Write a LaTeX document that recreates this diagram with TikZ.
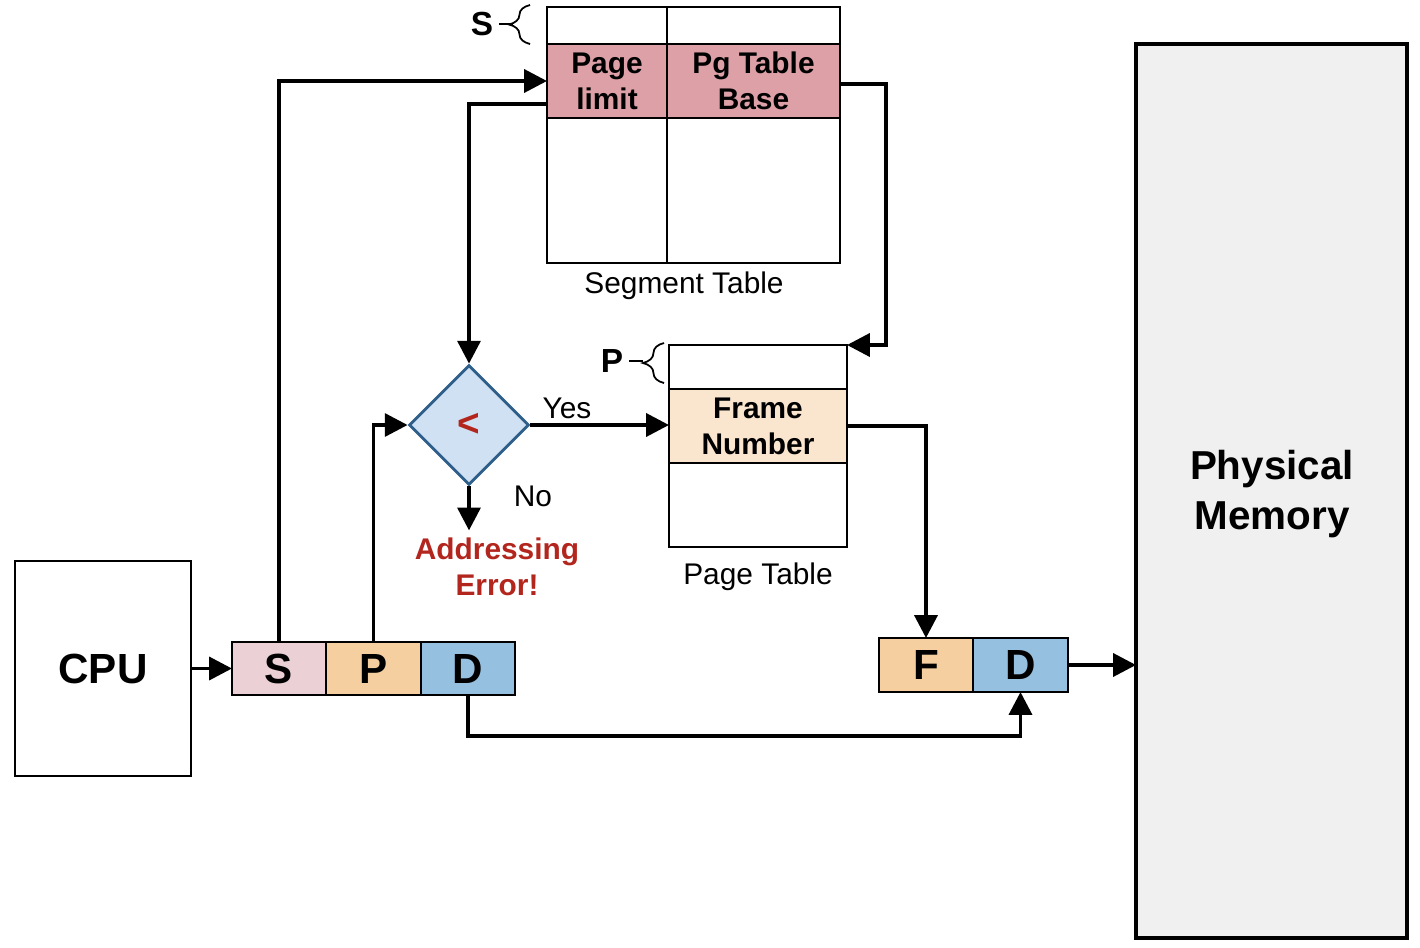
\documentclass[tikz,border=0pt]{standalone}
\usepackage{fontspec}
\setmainfont{Liberation Sans}
\usetikzlibrary{shapes.geometric,arrows.meta,decorations.pathreplacing}

\definecolor{segHi}{HTML}{DDA0A7}
\definecolor{frameHi}{HTML}{FAE5CE}
\definecolor{segCol}{HTML}{EBD0D6}
\definecolor{pageCol}{HTML}{F5CFA0}
\definecolor{offCol}{HTML}{95C0E0}
\definecolor{cmpFill}{HTML}{CFE1F2}
\definecolor{cmpLine}{HTML}{2E5F8A}
\definecolor{errRed}{HTML}{B3261E}
\definecolor{memFill}{HTML}{F0F0F0}

\tikzset{
  cell/.style={draw, line width=1.6pt, inner sep=0pt, outer sep=0pt,
               anchor=north west, align=center},
  hdr/.style={font=\fontsize{17}{20.5}\selectfont\bfseries},
  big/.style={font=\fontsize{24}{28}\selectfont\bfseries},
  plain/.style={font=\fontsize{17}{20.5}\selectfont},
  conn/.style={line width=2.2pt, -{Triangle[length=13pt,width=13pt]}},
  brc/.style={line width=1pt, decorate,
              decoration={brace, amplitude=12pt, aspect=0.5}},
}

\begin{document}
\begin{tikzpicture}[x=0.02cm, y=-0.02cm]
\useasboundingbox (0,0) rectangle (1420,947);

% segment table
\node[cell, minimum width=2.4cm, minimum height=0.74cm] (segT1) at (547,7) {};
\node[cell, minimum width=3.46cm, minimum height=0.74cm] (segT2) at (667,7) {};
\node[cell, fill=segHi, hdr, minimum width=2.4cm, minimum height=1.48cm] (segPL) at (547,44) {Page\\limit};
\node[cell, fill=segHi, hdr, minimum width=3.46cm, minimum height=1.48cm] (segPB) at (667,44) {Pg Table\\Base};
\node[cell, minimum width=2.4cm, minimum height=2.9cm] (segB1) at (547,118) {};
\node[cell, minimum width=3.46cm, minimum height=2.9cm] (segB2) at (667,118) {};
\node[plain] (segLbl) at (684,286) {Segment Table};

% S selector brace
\node[font=\fontsize{19}{22}\selectfont\bfseries] (sLbl) at (482,24) {S};
\draw[brc] (530,44) -- (530,5);
\draw[line width=1pt] (sLbl.east) -- ++(14,0);

% page table
\node[cell, minimum width=3.56cm, minimum height=0.88cm] (ptTop) at (669,345) {};
\node[cell, fill=frameHi, hdr, minimum width=3.56cm, minimum height=1.48cm] (ptFN) at (669,389) {Frame\\Number};
\node[cell, minimum width=3.56cm, minimum height=1.68cm] (ptBot) at (669,463) {};
\node[plain] (ptLbl) at (758,577) {Page Table};

% P selector brace
\node[font=\fontsize{19}{22}\selectfont\bfseries] (pLbl) at (612,361) {P};
\draw[brc] (664,383) -- (664,343);
\draw[line width=1pt] (pLbl.east) -- ++(14,0);

% comparator
\node[diamond, draw=cmpLine, fill=cmpFill, line width=1.6pt, inner sep=0pt,
      minimum width=2.4cm, minimum height=2.4cm,
      font=\fontsize{22}{24}\selectfont\bfseries, text=errRed] (cmp) at (469,425) {<};
\node[plain] (yesLbl) at (567,408) {Yes};
\node[plain] (noLbl) at (533,496) {No};
\node[hdr, text=errRed, align=center, anchor=north, inner sep=1pt] (err) at (497,536) {Addressing\\Error!};

% CPU and logical address
\node[cell, big, minimum width=3.52cm, minimum height=4.3cm] (cpu) at (15,561) {CPU};
\node[cell, big, fill=segCol, minimum width=1.88cm, minimum height=1.06cm] (sS) at (232,642) {S};
\node[cell, big, fill=pageCol, minimum width=1.9cm, minimum height=1.06cm] (sP) at (326,642) {P};
\node[cell, big, fill=offCol, minimum width=1.88cm, minimum height=1.06cm] (sD) at (421,642) {D};

% physical address
\node[cell, big, fill=pageCol, minimum width=1.88cm, minimum height=1.08cm] (fF) at (879,638) {F};
\node[cell, big, fill=offCol, minimum width=1.9cm, minimum height=1.08cm] (fD) at (973,638) {D};

% physical memory
\node[cell, fill=memFill, line width=2pt,
      minimum width=5.42cm, minimum height=17.88cm] (mem) at (1136,44) {};
\node[font=\fontsize{23}{28}\selectfont\bfseries, align=center] (memLbl) at (1272,494) {Physical\\Memory};

% connections
\draw[conn] (cpu.east |- sS.west) -- (sS.west);
\draw[conn] (sS.north) |- (segPL.west);
\draw[conn] ([yshift=0.28cm]segPL.south west) -| (cmp.north);
\draw[conn] ([yshift=-0.06cm]segPB.east) -- ++(46,0) |- (ptTop.north east);
\draw[conn] (sP.north) |- (cmp.west);
\draw[conn] (cmp.east) -- (cmp.east -| ptFN.west);
\draw[conn] (cmp.south) -- ++(0,44);
\draw[conn] (ptFN.east) -| (fF.north);
\draw[conn] (sD.south) -- ++(0,41) -| (fD.south);
\draw[conn] (fD.east) -- (mem.west |- fD.east);
\end{tikzpicture}
\end{document}
